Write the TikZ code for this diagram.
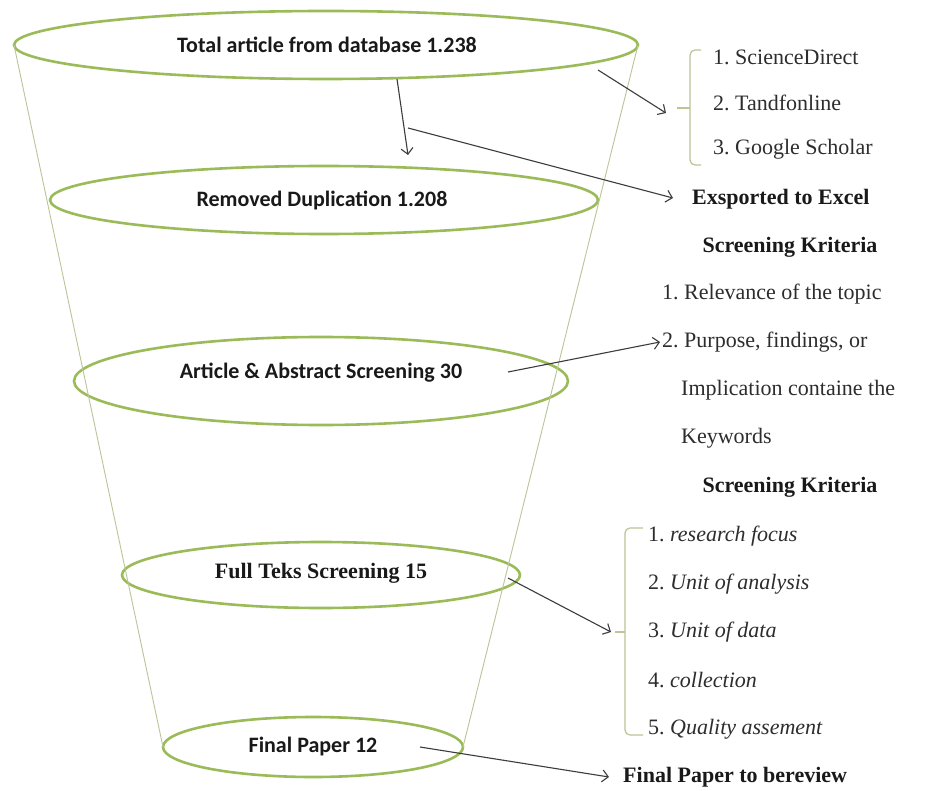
\documentclass[tikz,border=0pt]{standalone}
\usepackage{fontspec}
\setmainfont{Liberation Serif}
\newfontfamily\calibfont{Carlito}
\usetikzlibrary{shapes.geometric,arrows.meta}
\frenchspacing
\definecolor{ringgreen}{RGB}{155,187,89}
\definecolor{funnelline}{RGB}{185,198,150}
\definecolor{arrowgray}{RGB}{60,60,60}
\definecolor{txtgray}{RGB}{45,45,45}
\tikzset{
  ring/.style={draw=ringgreen, line width=2.6pt, shape=ellipse, inner sep=0pt, outer sep=0pt},
  sanslabel/.style={font=\calibfont\bfseries\fontsize{22}{26}\selectfont, text=black!90, inner sep=0pt},
  seriflabel/.style={font=\bfseries\fontsize{22}{26}\selectfont, text=black!90, inner sep=0pt},
  item/.style={font=\fontsize{22}{26}\selectfont, text=txtgray, anchor=west, inner sep=0pt},
  itembold/.style={font=\bfseries\fontsize{22}{26}\selectfont, text=black!90, inner sep=0pt},
  funnel/.style={draw=funnelline, line width=0.9pt},
  brk/.style={draw=funnelline, line width=1.2pt},
  arr/.style={draw=arrowgray, line width=1.1pt, -{Straight Barb[length=6pt,width=12pt]}},
}
\begin{document}
\begin{tikzpicture}[x=1pt,y=-1pt]
\fill[white] (0,0) rectangle (925,791);
\useasboundingbox (0,0) rectangle (925,791);

% funnel rings
\node[ring, minimum width=624pt, minimum height=68pt] (e1) at (326,45) {};
\node[ring, minimum width=548pt, minimum height=68pt] (e2) at (324,200) {};
\node[ring, minimum width=494pt, minimum height=88pt] (e3) at (321,381) {};
\node[ring, minimum width=398pt, minimum height=66pt] (e4) at (321,575) {};
\node[ring, minimum width=300pt, minimum height=60pt] (e5) at (313,747) {};

% funnel sides
\draw[funnel] (e1.west) -- (e5.west);
\draw[funnel] (e1.east) -- (e5.east);

% ring labels
\node[sanslabel] (t1) at (327,45) {Total article from database 1.238};
\node[sanslabel] (t2) at (322,200) {Removed Duplication 1.208};
\node[sanslabel] (t3) at (321,373) {Article \& Abstract Screening 30};
\node[seriflabel] (t4) at (321,573) {Full Teks Screening 15};
\node[sanslabel] (t5) at (313,747) {Final Paper 12};

% right-hand texts
\node[item] (s1) at (713,57) {1. ScienceDirect};
\node[item] (s2) at (713,103) {2. Tandfonline};
\node[item] (s3) at (713,149) {3. Google Scholar};
\node[itembold, anchor=west] (ex) at (692,199) {Exsported to Excel};
\node[itembold] (k1) at (790,247) {Screening Kriteria};
\node[item] (r1) at (662,294) {1. Relevance of the topic};
\node[item] (r2) at (662,342) {2. Purpose, findings, or};
\node[item] (r3) at (681,390) {Implication containe the};
\node[item] (r4) at (681,438) {Keywords};
\node[itembold] (k2) at (790,487) {Screening Kriteria};
\node[item] (c1) at (648,536) {1. \textit{research focus}};
\node[item] (c2) at (648,584) {2. \textit{Unit of analysis}};
\node[item] (c3) at (648,632) {3. \textit{Unit of data}};
\node[item] (c4) at (648,680) {4. \textit{collection}};
\node[item] (c5) at (648,729) {5. \textit{Quality assement}};
\node[itembold, anchor=west] (fp) at (623,777) {Final Paper to bereview};

% brackets
\draw[brk] (701,50) -- (695,50) to[out=180,in=90] (690,55) -- (690,160) to[out=-90,in=180] (695,165) -- (701,165);
\draw[brk] (690,108) -- (677,108);
\draw[brk] (643,528) -- (630,528) to[out=180,in=90] (625,533) -- (625,730) to[out=-90,in=180] (630,735) -- (643,735);
\draw[brk] (625,632) -- (615,632);

% connector ends
\coordinate (a1s) at (598,70);
\coordinate (br1) at (666,113);
\coordinate (a2s) at (397,79);
\coordinate (a2e) at (408,155);
\coordinate (a3s) at (408,128);
\coordinate (a4s) at (508,372);
\coordinate (a5s) at (508,578);
\coordinate (br2) at (611,632);
\coordinate (a6s) at (420,747);

% arrows
\draw[arr] (a1s) -- (br1);
\draw[arr] (a2s) -- (a2e);
\draw[arr] (a3s) -- ([xshift=-19pt,yshift=1pt]ex.west);
\draw[arr] (a4s) -- ([xshift=-2pt]r2.west);
\draw[arr] (a5s) -- (br2);
\draw[arr] (a6s) -- ([xshift=-14pt]fp.west);
\end{tikzpicture}
\end{document}
